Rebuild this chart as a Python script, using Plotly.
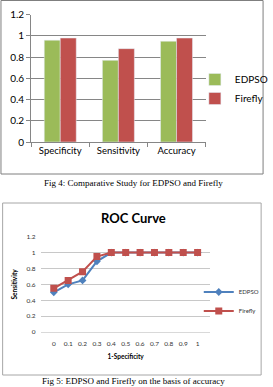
import plotly.graph_objects as go

# Bar chart data
bar_categories = ["Specificity", "Sensitivity", "Accuracy"]
bar_edpso = [0.96, 0.77, 0.95]
bar_firefly = [0.98, 0.88, 0.98]
bar_yticks = [0, 0.2, 0.4, 0.6, 0.8, 1, 1.2]
bar_yticklabels = ["0", "0.2", "0.4", "0.6", "0.8", "1", "1.2"]

# ROC data
roc_x = ["0", "0.1", "0.2", "0.3", "0.4", "0.5", "0.6", "0.7", "0.8", "0.9", "1"]
roc_edpso = [0.5, 0.6, 0.65, 0.89, 1, 1, 1, 1, 1, 1, 1]
roc_firefly = [0.55, 0.65, 0.76, 0.95, 1, 1, 1, 1, 1, 1, 1]

W, H = 273, 387
def px(x):
    return x / W
def py(y):
    return 1 - y / H

GREEN = "#9bbb59"
RED = "#c0504d"
BLUE = "#4f81bd"
FONT = "Lato"

fig = go.Figure()
fig.add_trace(go.Bar(x=bar_categories, y=bar_edpso, name="EDPSO", marker_color=GREEN,
                     xaxis="x", yaxis="y", legend="legend"))
fig.add_trace(go.Bar(x=bar_categories, y=bar_firefly, name="Firefly", marker_color=RED,
                     xaxis="x", yaxis="y", legend="legend"))
fig.add_trace(go.Scatter(x=roc_x, y=roc_edpso, name="EDPSO", mode="lines+markers",
                         line=dict(color=BLUE, width=2), marker=dict(symbol="diamond", size=6, color=BLUE),
                         xaxis="x2", yaxis="y2", legend="legend2"))
fig.add_trace(go.Scatter(x=roc_x, y=roc_firefly, name="Firefly", mode="lines+markers",
                         line=dict(color=RED, width=2), marker=dict(symbol="square", size=7, color=RED),
                         xaxis="x2", yaxis="y2", legend="legend2"))

fig.update_layout(
    width=W, height=H,
    margin=dict(l=0, r=0, t=0, b=0),
    paper_bgcolor="white", plot_bgcolor="white",
    font=dict(family=FONT, color="#000000"),
    barmode="group", bargap=0.45, bargroupgap=0,
    xaxis=dict(domain=[px(32), px(211)], anchor="y", type="category", automargin=False,
               tickangle=0,
               tickson="boundaries", ticks="outside", ticklen=4, tickcolor="#868686",
               showline=True, linecolor="#868686", linewidth=1,
               tickfont=dict(size=9.5, family=FONT), showgrid=False),
    yaxis=dict(domain=[py(142), py(14.7)], anchor="x", range=[0, 1.2], automargin=False,
               tickvals=bar_yticks, ticktext=bar_yticklabels,
               ticks="outside", ticklen=4, tickcolor="#868686",
               showline=True, linecolor="#868686", linewidth=1,
               showgrid=True, gridcolor="#868686", gridwidth=1,
               tickfont=dict(size=10, family=FONT), zeroline=False),
    xaxis2=dict(domain=[px(42), px(216)], anchor="y2", type="category", automargin=False,
                tickangle=0,
                showline=True, linecolor="#d9d9d9", ticks="outside", ticklen=5, tickcolor="rgba(0,0,0,0)",
                tickfont=dict(size=6.5, family=FONT, color="#333333"), showgrid=False,
                title=dict(text="<b>1-Specificity</b>", font=dict(size=6.5, family=FONT), standoff=8)),
    yaxis2=dict(domain=[py(332), py(236.7)], anchor="x2", range=[0, 1.2], automargin=False,
                tickvals=bar_yticks, ticktext=bar_yticklabels,
                ticks="outside", ticklen=3, tickcolor="rgba(0,0,0,0)",
                showline=False, showgrid=True, gridcolor="#c8c8c8", gridwidth=1,
                tickfont=dict(size=6.5, family=FONT, color="#333333"), zeroline=False,
                title=dict(text="<b>Sensitivity</b>", font=dict(size=6.5, family=FONT), standoff=8)),
    legend=dict(x=px(200), y=py(89), xanchor="left", yanchor="middle",
                font=dict(size=10, family=FONT), bgcolor="rgba(0,0,0,0)",
                itemwidth=30, tracegroupgap=0),
    legend2=dict(x=px(204), y=py(301.5), xanchor="left", yanchor="middle",
                 font=dict(size=6, family=FONT, color="#333333"), bgcolor="rgba(0,0,0,0)",
                 itemwidth=30, tracegroupgap=0),
    showlegend=True,
)

# Chart borders
fig.add_shape(type="rect", xref="paper", yref="paper", x0=px(1), x1=px(270), y0=py(174), y1=py(0.5),
              line=dict(color="#7f7f7f", width=1))
fig.add_shape(type="rect", xref="paper", yref="paper", x0=px(2.7), x1=px(268), y0=py(375), y1=py(203),
              line=dict(color="#a6a6a6", width=1))

# Title and captions
fig.add_annotation(text="<b>ROC Curve</b>", xref="paper", yref="paper", x=px(137), y=py(218),
                   showarrow=False, font=dict(size=13, family=FONT), xanchor="center", yanchor="middle")
fig.add_annotation(text="Fig 4: Comparative Study for EDPSO and Firefly", xref="paper", yref="paper",
                   x=px(137), y=py(183), showarrow=False, xanchor="center", yanchor="middle",
                   font=dict(size=9, family="Liberation Serif"))
fig.add_annotation(text="Fig 5: EDPSO and Firefly on the basis of accuracy", xref="paper", yref="paper",
                   x=px(137), y=py(380.5), showarrow=False, xanchor="center", yanchor="middle",
                   font=dict(size=9, family="Liberation Serif"))

fig.write_html("out.html")
